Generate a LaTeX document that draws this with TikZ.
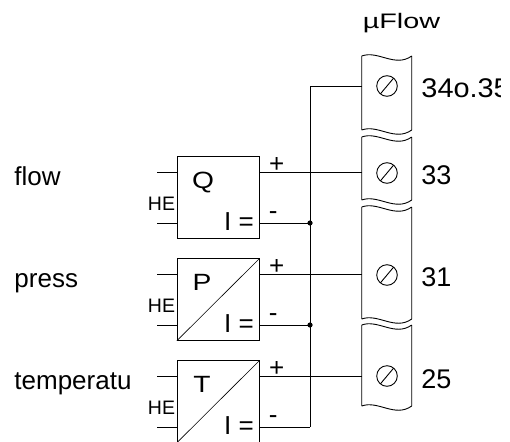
\documentclass[tikz,border=0pt]{standalone}
\usepackage{fontspec}
\setmainfont{Liberation Sans}
\usepackage{graphicx}

\newcommand{\wide}[1]{\scalebox{1.2}[1]{#1}}

\begin{document}
\begin{tikzpicture}[x=1pt,y=1pt,line width=0.9pt]
\tikzstyle{every node}+=[inner sep=0pt]
\tikzstyle{lbl}=[font=\fontsize{26}{26}\selectfont, anchor=base west]
\tikzstyle{num}=[font=\fontsize{27}{27}\selectfont, anchor=base west]
\tikzstyle{sgn}=[font=\fontsize{26}{26}\selectfont, anchor=base]
\tikzstyle{he}=[font=\fontsize{19.5}{19.5}\selectfont, anchor=base east]
\tikzstyle{qty}=[font=\fontsize{23.5}{23.5}\selectfont, anchor=base]
\tikzstyle{conv}=[draw, minimum width=82, minimum height=81.6]
\useasboundingbox (0,0) rectangle (510,-441);
\clip (0,0) rectangle (500,-441);
% transmitters
\node [conv] (qbox) at (218.3,-197.5) {};
\node [conv] (pbox) at (218.3,-299.5) {};
\node [conv] (tbox) at (218.3,-401.5) {};
\draw [black, line width=0.6pt] (pbox.south west) -- (pbox.north east);
\draw [black, line width=0.6pt] (tbox.south west) -- (tbox.north east);
\node [qty] (qname) at (203,-188.3) {\wide{Q}};
\node [qty] (pname) at (202,-290.3) {\wide{P}};
\node [qty] (tname) at (202,-392.3) {\wide{T}};
\node [sgn] (qout) at (239,-230) {I =};
\node [sgn] (pout) at (239,-332) {I =};
\node [sgn] (tout) at (239,-434) {I =};
\node [he] (qhe) at (175.5,-210.7) {HE};
\node [he] (phe) at (175.5,-312.5) {HE};
\node [he] (the) at (175.5,-414.5) {HE};
\node [lbl] (flow) at (14,-185) {flow};
\node [lbl] (press) at (14,-287.5) {press};
\node [lbl] (temp) at (14,-389.3) {temperatu};
% input stubs
\coordinate (qa) at (157,-172);
\coordinate (qb) at (157,-223);
\coordinate (pa) at (157,-274);
\coordinate (pb) at (157,-325);
\coordinate (ta) at (157,-376);
\coordinate (tb) at (157,-427);
\draw [black] (qa) -- (qa -| qbox.west);
\draw [black] (qb) -- (qb -| qbox.west);
\draw [black] (pa) -- (pa -| pbox.west);
\draw [black] (pb) -- (pb -| pbox.west);
\draw [black] (ta) -- (ta -| tbox.west);
\draw [black] (tb) -- (tb -| tbox.west);
% terminal strip
\foreach \t/\b in {-56/-130, -137/-200, -207/-319, -325/-406}
  \draw [black] (361.7,\t) .. controls (378,\t+6) and (395,\t-12) .. (411.7,\t)
    (361.7,\b) .. controls (378,\b+6) and (395,\b-12) .. (411.7,\b)
    (361.7,\t) -- (361.7,\b) (411.7,\t) -- (411.7,\b);
\coordinate (t34) at (361.7,-86);
\coordinate (t33) at (361.7,-172);
\coordinate (t31) at (361.7,-274);
\coordinate (t25) at (361.7,-376);
\coordinate (s34) at (387,-86);
\coordinate (s33) at (387,-173);
\coordinate (s31) at (387,-275);
\coordinate (s25) at (387,-376);
\draw [black] (s34) circle (10.3);
\draw [black] (s34) ++(230:10.3) -- ++(50:20.6);
\draw [black] (s33) circle (10.3);
\draw [black] (s33) ++(230:10.3) -- ++(50:20.6);
\draw [black] (s31) circle (10.3);
\draw [black] (s31) ++(230:10.3) -- ++(50:20.6);
\draw [black] (s25) circle (10.3);
\draw [black] (s25) ++(230:10.3) -- ++(50:20.6);
\node [num] (n34) at (421,-97.7) {\scalebox{1.07}[1]{34o.35}};
\node [num] (n33) at (421,-184.3) {33};
\node [num] (n31) at (421,-286.7) {31};
\node [num] (n25) at (421,-388.3) {25};
\node [font=\fontsize{21}{21}\selectfont, anchor=base] (uflow) at (401.5,-28.3) {\scalebox{1.37}[1]{µFlow}};
% wiring
\coordinate (jq) at (310,-223);
\coordinate (jp) at (310,-325);
\coordinate (jt) at (310,-427);
\draw [black] (qbox.east |- t33) -- (t33);
\draw [black] (pbox.east |- t31) -- (t31);
\draw [black] (tbox.east |- t25) -- (t25);
\draw [black] (qbox.east |- jq) -- (jq);
\draw [black] (pbox.east |- jp) -- (jp);
\draw [black] (tbox.east |- jt) -- (jt);
\draw [black] (t34) -| (jt);
\fill [black] (jq) circle (2.6);
\fill [black] (jp) circle (2.6);
\node [sgn] (qplus) at (276.7,-172) {+};
\node [sgn] (pplus) at (276.7,-274) {+};
\node [sgn] (tplus) at (276.7,-376) {+};
\node [sgn] (qminus) at (273.3,-219.2) {-};
\node [sgn] (pminus) at (273.3,-321.2) {-};
\node [sgn] (tminus) at (273.3,-423.2) {-};
\end{tikzpicture}
\end{document}
